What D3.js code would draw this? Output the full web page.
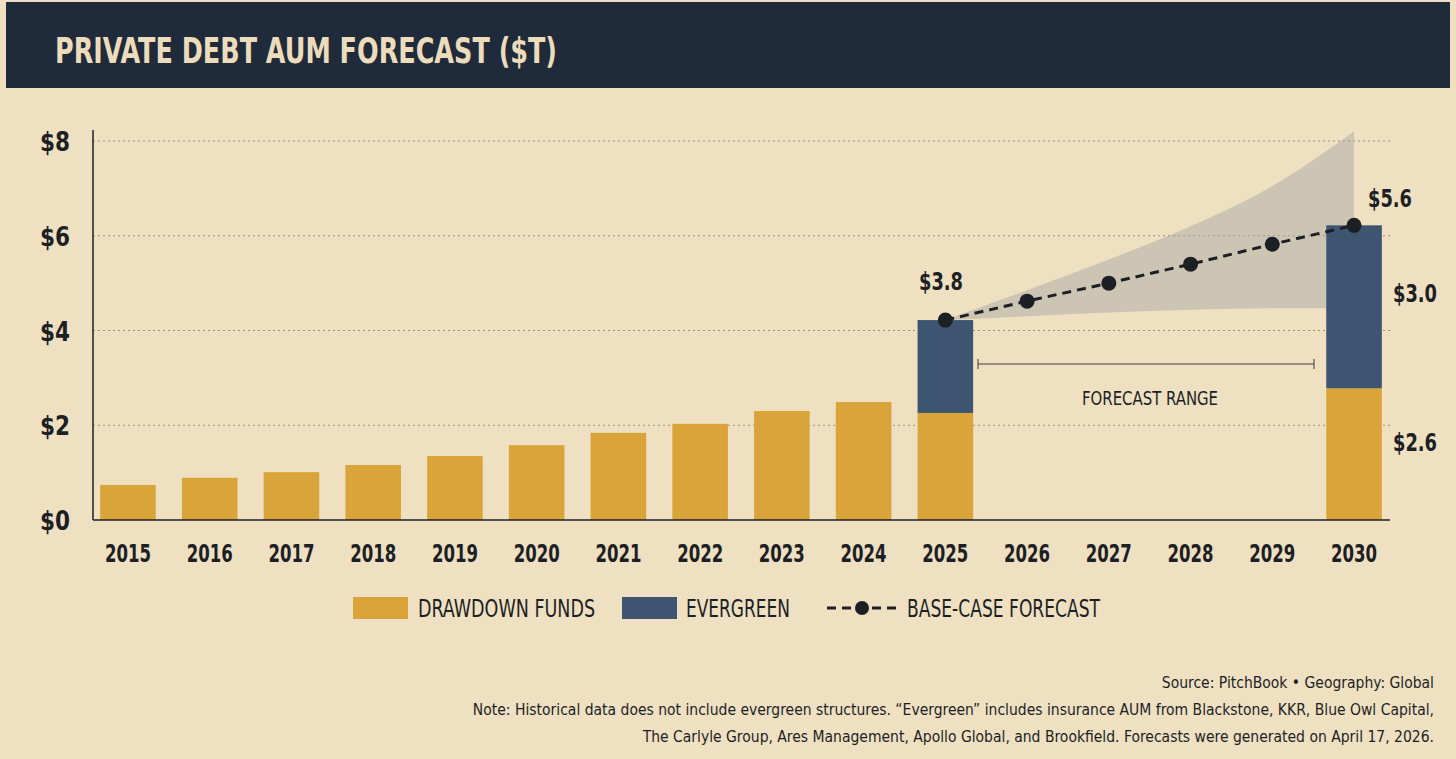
<!DOCTYPE html>
<html><head><meta charset="utf-8">
<script src="https://cdn.jsdelivr.net/npm/d3@7"></script>
<style>
body{margin:0;background:#efe0c2;}
svg{display:block;}
</style></head>
<body>
<div id="chart"></div>
<script>
var years = ["2015","2016","2017","2018","2019","2020","2021","2022","2023","2024","2025","2026","2027","2028","2029","2030"];
var drawdown = [0.74,0.89,1.01,1.16,1.35,1.58,1.84,2.03,2.30,2.49,2.26,null,null,null,null,2.78];
var evergreen = [0,0,0,0,0,0,0,0,0,0,1.96,null,null,null,null,3.44];
var forecastYears = ["2025","2026","2027","2028","2029","2030"];
var forecast = [4.22,4.62,5.0,5.4,5.82,6.22];
var bandHigh = [4.22,4.85,5.5,6.2,7.05,8.2];
var bandLow = [4.22,4.3,4.38,4.44,4.47,4.47];
var yTicks = [0,2,4,6,8];

var W = 1456, H = 759;
var font = "'DejaVu Sans Condensed','DejaVu Sans',sans-serif";
var gold = "#d9a53a", navy = "#3d5570", ink = "#1c1f24";

var svg = d3.select("#chart").append("svg").attr("width", W).attr("height", H);
svg.append("rect").attr("width", W).attr("height", H).attr("fill", "#efe0c2");

// squeeze text to the reference width
function fit(sel, w) { return sel.attr("textLength", w).attr("lengthAdjust", "spacingAndGlyphs"); }

// title bar
svg.append("rect").attr("x", 6).attr("y", 2).attr("width", W - 12).attr("height", 86).attr("fill", "#1f2b3a");
fit(svg.append("text").attr("x", 55).attr("y", 63).attr("fill", "#ecdcbc")
  .style("font-family", font).style("font-weight", "bold").style("font-size", "36px")
  .text("PRIVATE DEBT AUM FORECAST ($T)"), 502);

var x = d3.scaleBand().domain(years).range([92, 1390]).paddingInner(0.32).paddingOuter(0.1);
var y = d3.scaleLinear().domain([0, 8]).range([520, 141]);
var cx = d => x(d) + x.bandwidth() / 2;

// grid
svg.selectAll(".grid").data(yTicks.slice(1)).enter().append("line")
  .attr("x1", 93).attr("x2", 1390).attr("y1", d => y(d)).attr("y2", d => y(d))
  .attr("stroke", "#9a8f7c").attr("stroke-dasharray", "2,3").attr("stroke-width", 1);

// y axis
svg.append("line").attr("x1", 93).attr("x2", 93).attr("y1", 130).attr("y2", 520).attr("stroke", ink).attr("stroke-width", 1.5);
svg.selectAll(".ylab").data(yTicks).enter().append("text")
  .attr("x", 40).attr("y", d => y(d) + 10).attr("fill", ink)
  .attr("textLength", 30).attr("lengthAdjust", "spacingAndGlyphs")
  .style("font-family", font).style("font-weight", "bold").style("font-size", "27px")
  .text(d => "$" + d);

// band
var band = forecastYears.map((d, i) => ({yr: d, hi: bandHigh[i], lo: bandLow[i]}));
svg.append("path").datum(band)
  .attr("d", d3.area().x(d => cx(d.yr)).y0(d => y(d.lo)).y1(d => y(d.hi)).curve(d3.curveMonotoneX))
  .attr("fill", "#a9a9a6").attr("opacity", 0.5);

// bars
var data = years.map((d, i) => ({yr: d, a: drawdown[i], b: evergreen[i]})).filter(d => d.a != null);
svg.selectAll(".dd").data(data).enter().append("rect")
  .attr("x", d => x(d.yr)).attr("width", x.bandwidth())
  .attr("y", d => y(d.a)).attr("height", d => y(0) - y(d.a)).attr("fill", gold);
svg.selectAll(".ev").data(data.filter(d => d.b > 0)).enter().append("rect")
  .attr("x", d => x(d.yr)).attr("width", x.bandwidth())
  .attr("y", d => y(d.a + d.b)).attr("height", d => y(d.a) - y(d.a + d.b)).attr("fill", navy);

// x axis
svg.append("line").attr("x1", 93).attr("x2", 1390).attr("y1", 520).attr("y2", 520).attr("stroke", ink).attr("stroke-width", 1.5);
svg.selectAll(".xlab").data(years).enter().append("text")
  .attr("x", d => cx(d)).attr("y", 562).attr("text-anchor", "middle").attr("fill", ink)
  .attr("textLength", 46).attr("lengthAdjust", "spacingAndGlyphs")
  .style("font-family", font).style("font-weight", "bold").style("font-size", "24px").text(d => d);

// forecast line
var fc = forecastYears.map((d, i) => ({yr: d, v: forecast[i]}));
svg.append("path").datum(fc).attr("d", d3.line().x(d => cx(d.yr)).y(d => y(d.v)))
  .attr("fill", "none").attr("stroke", ink).attr("stroke-width", 3).attr("stroke-dasharray", "9,6");
svg.selectAll(".pt").data(fc).enter().append("circle")
  .attr("cx", d => cx(d.yr)).attr("cy", d => y(d.v)).attr("r", 7.5).attr("fill", ink);

// forecast range bracket
var fx1 = 978, fx2 = 1314, fy = 364;
svg.append("path").attr("d", `M${fx1},${fy-5}V${fy+5}M${fx1},${fy}H${fx2}M${fx2},${fy-5}V${fy+5}`)
  .attr("stroke", "#3a3a3a").attr("fill", "none").attr("stroke-width", 1);
fit(svg.append("text").attr("x", 1082).attr("y", 405).attr("fill", ink)
  .style("font-family", font).style("font-size", "20px").text("FORECAST RANGE"), 136);

// value labels
function lab(t, xx, yy) {
  fit(svg.append("text").attr("x", xx).attr("y", yy).attr("fill", ink)
    .style("font-family", font).style("font-weight", "bold").style("font-size", "25px").text(t), 44);
}
lab("$3.8", 919, 290);
lab("$5.6", 1368, 207);
lab("$3.0", 1393, 302);
lab("$2.6", 1393, 451);

// legend
var lg = svg.append("g").style("font-family", font).style("font-size", "24px").attr("fill", ink);
lg.append("rect").attr("x", 353).attr("y", 597).attr("width", 55).attr("height", 22).attr("fill", gold);
fit(lg.append("text").attr("x", 418).attr("y", 617).text("DRAWDOWN FUNDS"), 177);
lg.append("rect").attr("x", 622).attr("y", 597).attr("width", 55).attr("height", 22).attr("fill", navy);
fit(lg.append("text").attr("x", 686).attr("y", 617).text("EVERGREEN"), 104);
lg.append("line").attr("x1", 827).attr("x2", 897).attr("y1", 608).attr("y2", 608)
  .attr("stroke", ink).attr("stroke-width", 3).attr("stroke-dasharray", "9,6");
lg.append("circle").attr("cx", 862).attr("cy", 608).attr("r", 7).attr("fill", ink);
fit(lg.append("text").attr("x", 907).attr("y", 617).text("BASE-CASE FORECAST"), 193);

// source notes
var notes = ["Source: PitchBook \u2022 Geography: Global",
  "Note: Historical data does not include evergreen structures. \u201cEvergreen\u201d includes insurance AUM from Blackstone, KKR, Blue Owl Capital,",
  "The Carlyle Group, Ares Management, Apollo Global, and Brookfield. Forecasts were generated on April 17, 2026."];
svg.selectAll(".note").data(notes).enter().append("text")
  .attr("x", 1434).attr("y", (d, i) => 688 + i * 27).attr("fill", ink).attr("text-anchor", "end")
  .style("font-family", font).style("font-size", "15.5px").text(d => d);
</script>
</body></html>
